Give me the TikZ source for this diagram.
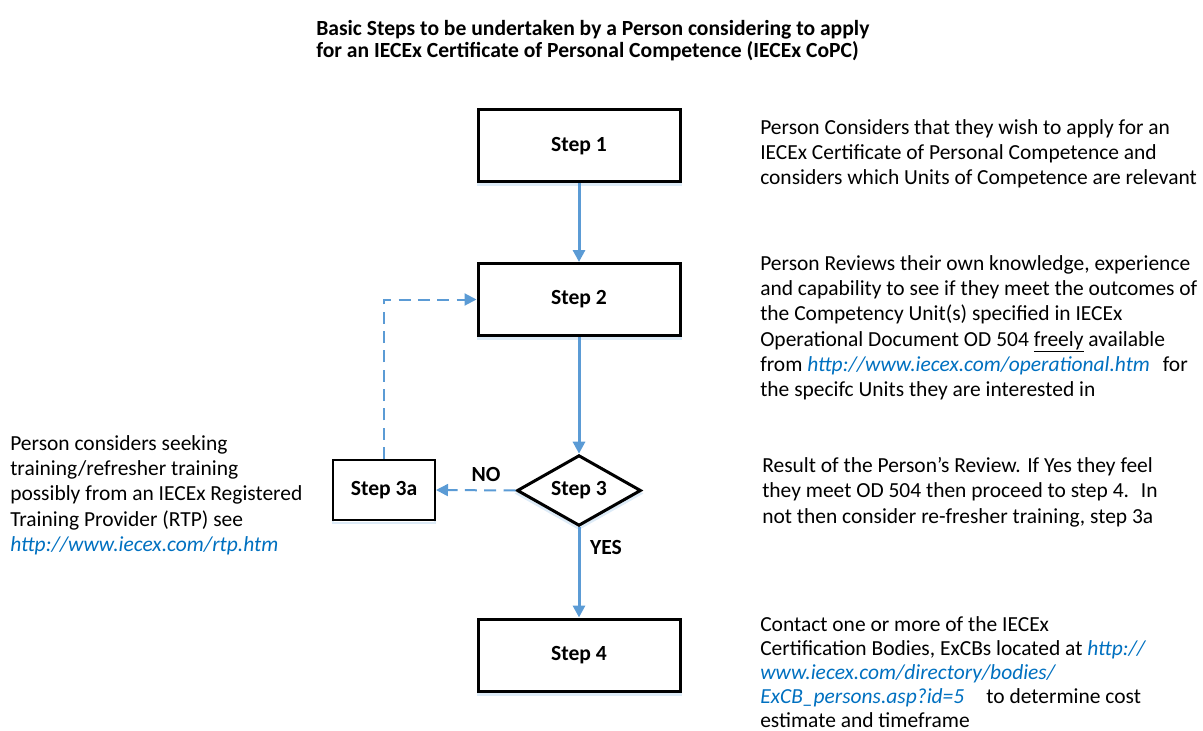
\documentclass[tikz,border=0pt]{standalone}
\usepackage{fontspec}
\setmainfont{Carlito}
\usetikzlibrary{arrows.meta,shapes.geometric,shadows}
\definecolor{flowblue}{HTML}{5B9BD5}
\definecolor{linkblue}{HTML}{0070C0}
\definecolor{shadowblue}{HTML}{DDEBF7}
\newcommand{\lnk}[1]{{\color{linkblue}\itshape #1}}
\begin{document}
\begin{tikzpicture}[x=0.75pt,y=-0.75pt,
  boxshadow/.style={general shadow={shadow yshift=-2.25pt, draw=shadowblue, line width=#1}},
  stepbox/.style={draw=black, line width=2.25pt, fill=white, minimum width=151.5pt,
    minimum height=54pt, inner sep=0pt, font=\fontsize{16.2pt}{19pt}\selectfont\bfseries,
    boxshadow=2.25pt},
  smallbox/.style={draw=black, line width=1.5pt, fill=white, minimum width=76.5pt,
    minimum height=45pt, inner sep=0pt, font=\fontsize{16.2pt}{19pt}\selectfont\bfseries,
    boxshadow=1.5pt},
  decision/.style={diamond, draw=black, line width=2.25pt, fill=white, aspect=1.7,
    minimum width=93pt, minimum height=53pt, inner sep=0pt,
    font=\fontsize{16.2pt}{19pt}\selectfont\bfseries, boxshadow=2.25pt},
  flowarrow/.style={draw=flowblue, line width=2.25pt, -{Triangle[width=9pt,length=9pt]}},
  dasharrow/.style={draw=flowblue, line width=1.5pt, dash pattern=on 9pt off 5.5pt,
    -{Triangle[width=9pt,length=9pt]}},
  lbl/.style={font=\fontsize{16.2pt}{19pt}\selectfont\bfseries, inner sep=0pt},
  desc/.style={font=\fontsize{16.1pt}{19pt}\selectfont, align=left, inner sep=0pt, anchor=north west},
  title/.style={font=\fontsize{16.2pt}{16.5pt}\selectfont\bfseries, align=left, inner sep=0pt, anchor=north west}
]
\useasboundingbox (0,0) rectangle (1203,731);

\node[title] (title) at (316,20) {Basic Steps to be undertaken by a Person considering to apply\\for an IECEx Certificate of Personal Competence (IECEx CoPC)};

\node[stepbox] (s1) at (579,146) {Step 1};
\node[stepbox] (s2) at (579,299.5) {Step 2};
\node[decision] (s3) at (579,490.5) {Step 3};
\node[smallbox] (s3a) at (384,490) {Step 3a};
\node[stepbox] (s4) at (579,655) {Step 4};

\draw[flowarrow] (s1) -- (s2);
\draw[flowarrow] (s2) -- (s3);
\draw[flowarrow] (s3) -- (s4);
\draw[dasharrow] (s3.west) -- (s3a.east);
\draw[dasharrow] (s3a.north) |- (s2.west);

\node[lbl] (no) at (486,474) {NO};
\node[lbl] (yes) at (606,547) {YES};

\node[desc] (t1) at (760,119) {Person Considers that they wish to apply for an\\IECEx Certificate of Personal Competence and\\considers which Units of Competence are relevant};
\node[desc] (t2) at (760,255) {Person Reviews their own knowledge, experience\\and capability to see if they meet the outcomes of\\the Competency Unit(s) specified in IECEx\\Operational Document OD 504 \underline{freely} available\\from \lnk{http://www.iecex.com/operational.htm}\hspace{0.6em}for\\the specifc Units they are interested in};
\node[desc] (t3) at (762,457) {Result of the Person’s Review. If Yes they feel\\they meet OD 504 then proceed to step 4.\hspace{0.25em} In\\not then consider re-fresher training, step 3a};
\node[desc, font=\fontsize{16.1pt}{18pt}\selectfont] (t4) at (760,616) {Contact one or more of the IECEx\\Certification Bodies, ExCBs located at \lnk{http://}\\\lnk{www.iecex.com/directory/bodies/}\\\lnk{ExCB\_persons.asp?id=5}\hspace{0.8em} to determine cost\\estimate and timeframe};
\node[desc] (t5) at (10,435) {Person considers seeking\\training/refresher training\\possibly from an IECEx Registered\\Training Provider (RTP) see\\\lnk{http://www.iecex.com/rtp.htm}};
\end{tikzpicture}
\end{document}
